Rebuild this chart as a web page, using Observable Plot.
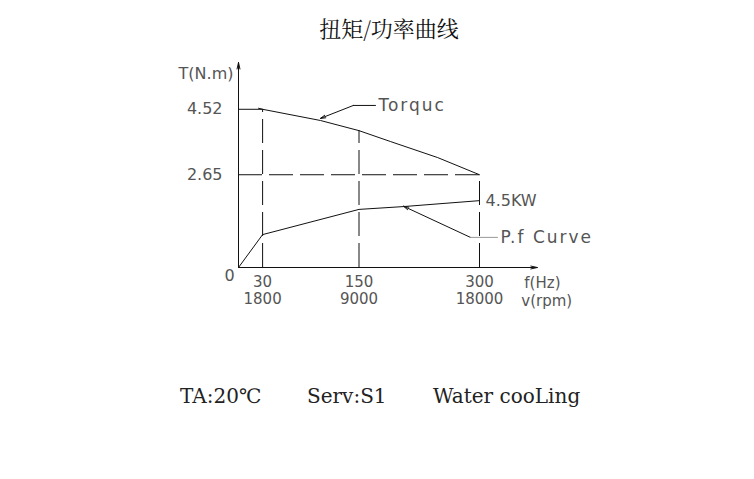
<!DOCTYPE html>
<html><head><meta charset="utf-8">
<script src="https://cdn.jsdelivr.net/npm/d3@7"></script>
<script src="https://cdn.jsdelivr.net/npm/@observablehq/plot@0.6"></script>
<style>
html,body{margin:0;padding:0;background:#fff;}
#wrap{position:relative;width:754px;height:479px;overflow:hidden;}
#chart{position:absolute;left:0;top:0;}
.title{position:absolute;left:0;width:778px;top:13px;text-align:center;font-family:"Noto Serif CJK SC","Noto Sans CJK SC",serif;font-size:22px;color:#111;line-height:30px;}
.foot{position:absolute;top:382px;font-family:"DejaVu Serif",serif;font-size:20px;color:#222;line-height:28px;white-space:pre;}
</style></head><body>
<div id="wrap">
<div id="chart"></div>
<div class="title" id="title"></div>
<div id="footer"></div>
</div>
<script>
// ---- text ----
const titleText = "扭矩/功率曲线";
const footerNotes = ["TA:20℃", "Serv:S1", "Water cooLing"];

// ---- data ----
const torqueHz = [25, 30, 102, 150, 189, 248, 300];
const torqueNm = [4.55, 4.52, 4.20, 3.91, 3.60, 3.14, 2.65];
const powerHz = [0, 30, 150, 205, 300];
const powerCurve = [0, 0.94, 1.66, 1.74, 1.91];   // drawn height of P.f curve (axis units)
const freqTicks = [30, 150, 300];
const rpmLabels = ["1800", "9000", "18000"];
const torqueTicks = [2.65, 4.52];
const torqueLabel = "Torquc";
const powerLabel = "P.f Curve";
const ratedPower = "4.5KW";

// ---- layout ----
document.getElementById("title").textContent = titleText;
const footX = [180, 307, 433];
const footer = document.getElementById("footer");
footerNotes.forEach((t, i) => {
  const s = document.createElement("div");
  s.className = "foot"; s.style.left = footX[i] + "px"; s.textContent = t;
  footer.appendChild(s);
});

const torque = torqueHz.map((x, i) => ({x, y: torqueNm[i]}));
const power = powerHz.map((x, i) => ({x, y: powerCurve[i]}));
const torqueAt = f => torqueNm[torqueHz.indexOf(f)];
const guides = freqTicks.map(f => ({x: f, y1: 0, y2: torqueAt(f)}));
const powerEnd = powerCurve[powerCurve.length - 1];

const yTop = 5.857, xEnd = 372;
const ink = "#111";
const seg = (x1, y1, x2, y2) => [{x1, y1, x2, y2}];
const arrowOpts = (len, ang) => ({x1: "x1", y1: "y1", x2: "x2", y2: "y2", stroke: ink, strokeWidth: 1, headLength: len, headAngle: ang});

const plot = Plot.plot({
  width: 754, height: 479,
  marginLeft: 238, marginRight: 275, marginTop: 62, marginBottom: 212,
  x: {domain: [0, 300]},
  y: {domain: [0, yTop]},
  style: {fontFamily: "DejaVu Sans", fontSize: "16px", color: "#555", background: "transparent", overflow: "visible"},
  marks: [
    Plot.ruleX(guides, {x: "x", y1: "y1", y2: "y2", stroke: ink, strokeWidth: 1, strokeDasharray: "24,7"}),
    Plot.ruleY([torqueTicks[0]], {x1: 0, x2: 300, stroke: ink, strokeWidth: 1, strokeDasharray: "24,7"}),
    Plot.ruleY([torqueTicks[1]], {x1: 0, x2: freqTicks[0], stroke: ink, strokeWidth: 1}),
    Plot.line(torque, {x: "x", y: "y", stroke: ink, strokeWidth: 1}),
    Plot.line(power, {x: "x", y: "y", stroke: ink, strokeWidth: 1}),
    // axes with arrows
    Plot.arrow(seg(0, 0, 0, yTop), arrowOpts(10, 25)),
    Plot.arrow(seg(0, 0, xEnd, 0), arrowOpts(10, 25)),
    Plot.axisX({ticks: freqTicks, tickSize: 0, tickPadding: 9, fontSize: 15, tickFormat: d => String(d), label: null}),
    Plot.axisX({ticks: freqTicks, tickSize: 0, tickPadding: 26, fontSize: 15, tickFormat: d => rpmLabels[freqTicks.indexOf(d)], label: null}),
    Plot.axisY({ticks: torqueTicks, tickSize: 0, tickPadding: 16, tickFormat: d => d.toFixed(2), label: null}),
    Plot.text(["0"], {x: 0, y: 0, text: d => d, dx: -9, dy: 8}),
    Plot.text(["T(N.m)"], {x: 0, y: 5.54, text: d => d, textAnchor: "end", dx: -5}),
    Plot.text(["f(Hz)"], {x: xEnd, y: 0, text: d => d, textAnchor: "start", dx: -13, dy: 16, fontSize: 15}),
    Plot.text(["v(rpm)"], {x: xEnd, y: 0, text: d => d, textAnchor: "start", dx: -16, dy: 34, fontSize: 15}),
    // torque leader
    Plot.arrow(seg(143, 4.63, 102, 4.26), arrowOpts(8, 30)),
    Plot.line([[143, 4.63], [170.5, 4.63]], {stroke: ink, strokeWidth: 1}),
    Plot.text([torqueLabel], {x: 170.5, y: 4.63, text: d => d, textAnchor: "start", dx: 3, fontSize: 17}),
    // power leader
    Plot.arrow(seg(288.8, 0.86, 205.4, 1.75), arrowOpts(8, 30)),
    Plot.line([[288.8, 0.86], [322.4, 0.86]], {stroke: "#999", strokeWidth: 1}),
    Plot.text([powerLabel], {x: 322.4, y: 0.86, text: d => d, textAnchor: "start", dx: 3, fontSize: 17}),
    Plot.text([ratedPower], {x: 300, y: powerEnd, text: d => d, textAnchor: "start", dx: 6})
  ]
});
d3.select(plot).selectAll("text")
  .filter(function () { return this.textContent === torqueLabel || this.textContent === powerLabel; })
  .attr("letter-spacing", 2);
document.getElementById("chart").appendChild(plot);
</script>
</body></html>
